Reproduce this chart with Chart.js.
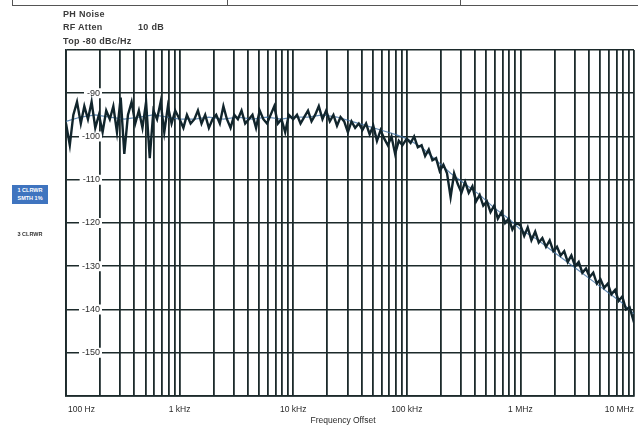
<!DOCTYPE html>
<html>
<head>
<meta charset="utf-8">
<script src="https://cdn.jsdelivr.net/npm/chart.js@4.4.0/dist/chart.umd.min.js"></script>
<style>
html,body{margin:0;padding:0;background:#fff;width:638px;height:428px;overflow:hidden;font-family:"Liberation Sans",Arial,sans-serif;}
#wrap{position:absolute;left:0;top:0;width:638px;height:428px;}
#c{position:absolute;left:0;top:0;}
.hdr{position:absolute;font-size:9px;font-weight:bold;color:#3c3c3c;white-space:nowrap;line-height:10px;letter-spacing:0.3px;}
#tbl{position:absolute;left:12px;top:-12px;width:640px;height:17px;border:1px solid #555;border-top:none;}
.div{position:absolute;top:-12px;width:1px;height:18px;background:#555;}
#tr1{position:absolute;left:12px;top:185px;width:36px;height:19px;background:#3f74bf;color:#fff;font-size:5.5px;font-weight:bold;line-height:8px;text-align:center;padding-top:1px;box-sizing:border-box;}
#tr3{position:absolute;left:12px;top:230px;width:36px;color:#333;font-size:5.5px;font-weight:bold;line-height:8px;text-align:center;}
</style>
</head>
<body>
<div id="wrap">
  <canvas id="c" width="638" height="428"></canvas>
  <div id="tbl"></div>
  <div class="div" style="left:227px"></div>
  <div class="div" style="left:460px"></div>
  <div class="hdr" style="left:63px;top:9px">PH Noise</div>
  <div class="hdr" style="left:63px;top:22px">RF Atten</div>
  <div class="hdr" style="left:138px;top:22px">10 dB</div>
  <div class="hdr" style="left:63px;top:36px">Top -80 dBc/Hz</div>
  <div id="tr1">1 CLRWR<br>SMTH 1%</div>
  <div id="tr3">3 CLRWR</div>
</div>
<script>
// ---- Data ----
const freqHz = [
  100,108,116,125,135,145,156,168,181,195,210,226,243,261,281,303,326,351,378,407,438,471,507,546,588,633,681,733,789,850,915,
  1000,1080,1160,1250,1350,1450,1560,1680,1810,1950,2100,2260,2430,2610,2810,3030,3260,3510,3780,4070,4380,4710,5070,5460,5880,6330,6810,7330,7890,8500,9150,
  10000,10800,11600,12500,13500,14500,15600,16800,18100,19500,21000,22600,24300,26100,28100,30300,32600,35100,37800,40700,43800,47100,50700,54600,58800,63300,68100,73300,78900,85000,91500,
  100000,108000,116000,125000,135000,145000,156000,168000,181000,195000,210000,226000,243000,261000,281000,303000,326000,351000,378000,407000,438000,471000,507000,546000,588000,633000,681000,733000,789000,850000,915000,
  1000000,1080000,1160000,1250000,1350000,1450000,1560000,1680000,1810000,1950000,2100000,2260000,2430000,2610000,2810000,3030000,3260000,3510000,3780000,4070000,4380000,4710000,5070000,5460000,5880000,6330000,6810000,7330000,7890000,8500000,9150000,
  10000000
];
const noiseDbc = [
  -97,-102,-95,-92,-97,-93,-96,-92,-98,-95,-99,-94,-96,-93,-99,-91,-104,-95,-92,-97,-94,-98,-92,-105,-94,-96,-92,-99,-93,-97,-94,
  -96,-98,-95,-97,-96,-94,-97,-95,-98,-96,-95,-97,-93,-96,-98,-95,-96,-94,-97,-96,-95,-98,-94,-96,-97,-95,-93,-97,-96,-99,-95,
  -96,-95,-97,-95.5,-94,-96.5,-95,-93,-96,-94,-96.5,-95,-97.5,-95.5,-96.5,-99,-96.5,-98,-97,-98.5,-97,-99.5,-97.5,-101,-98.5,-100.5,-102,-100,-104,-101,-102,
  -100.5,-101.5,-100,-102.5,-102,-104.5,-103,-105.5,-105,-108,-106.5,-108.5,-114,-108.5,-111,-113,-110.5,-113,-111.5,-115,-113.5,-116,-115,-117.5,-116,-119,-117.5,-120,-119,-121.5,-120,
  -120.5,-123,-121,-124,-122,-124.5,-123.5,-125.5,-124,-126.5,-125.5,-127.5,-126.5,-129,-127.5,-130,-129,-131.5,-130.5,-132.5,-131.5,-134,-133,-135,-134,-136.5,-135.5,-138,-137,-140,-139.5,
  -143
];
const smoothFreqHz = [
  100,135,181,243,326,438,588,789,
  1000,1350,1810,2430,3260,4380,5880,7890,
  10000,13500,18100,24300,32600,43800,58800,78900,
  100000,135000,181000,243000,326000,438000,588000,789000,
  1000000,1350000,1810000,2430000,3260000,4380000,5880000,7890000,
  10000000
];
const smoothDbc = [
  -96.5,-95.5,-95,-95.5,-96,-95.5,-95,-95.5,
  -96,-96,-95.5,-96,-95.5,-96,-95.5,-96,
  -95.5,-95.5,-95,-95.5,-96.5,-97.5,-98.5,-99.5,
  -100.5,-102.5,-105.5,-108.5,-111,-113.5,-116.5,-119,
  -121.5,-123.5,-126,-128.5,-131,-133.5,-136,-138.5,
  -141
];
const xTickValues = [100, 1000, 10000, 100000, 1000000, 10000000];
const xTickLabels = ['100 Hz', '1 kHz', '10 kHz', '100 kHz', '1 MHz', '10 MHz'];
const yTickValues = [-90, -100, -110, -120, -130, -140, -150];
const yTickLabels = ['-90', '-100', '-110', '-120', '-130', '-140', '-150'];
const xTitle = 'Frequency Offset';

// gridline positions: 1..9 x each decade
const gridValues = [];
for (let d = 100; d < 1e7; d *= 10) { for (let m = 1; m <= 9; m++) gridValues.push(m * d); }
gridValues.push(1e7);

const LABEL_FONT = '8.5px "Liberation Sans", Arial, sans-serif';
const GRID = '#1c2a2b';

const yLabelPlugin = {
  id: 'yLabels',
  beforeDatasetsDraw(chart) {
    const { ctx, scales: { y } } = chart;
    ctx.save();
    ctx.font = '9px "Liberation Sans", Arial, sans-serif';
    ctx.textBaseline = 'middle';
    ctx.textAlign = 'right';
    yTickValues.forEach((v, i) => {
      const py = y.getPixelForValue(v);
      const w = ctx.measureText(yTickLabels[i]).width;
      ctx.fillStyle = '#fff';
      ctx.fillRect(100 - w - 3, py - 5, w + 5, 10);
      ctx.fillStyle = '#2e2e2e';
      ctx.fillText(yTickLabels[i], 100, py);
    });
    ctx.restore();
  }
};

const xLabelPlugin = {
  id: 'xLabels',
  afterDraw(chart) {
    const { ctx, chartArea, scales: { x } } = chart;
    ctx.save();
    ctx.font = LABEL_FONT;
    ctx.fillStyle = '#2a2a2a';
    ctx.textBaseline = 'middle';
    xTickValues.forEach((v, i) => {
      let px = x.getPixelForValue(v);
      let align = 'center';
      if (i === 0) { align = 'left'; px = chartArea.left + 2; }
      else if (i === xTickValues.length - 1) { align = 'right'; px = chartArea.right; }
      ctx.textAlign = align;
      ctx.fillText(xTickLabels[i], px, 410);
    });
    ctx.textAlign = 'center';
    ctx.fillText(xTitle, 343, 421);
    ctx.restore();
  }
};

const noisePts = freqHz.map((f, i) => ({ x: f, y: noiseDbc[i] }));
const smoothPts = smoothFreqHz.map((f, i) => ({ x: f, y: smoothDbc[i] }));

new Chart(document.getElementById('c'), {
  type: 'line',
  data: {
    datasets: [
      { data: smoothPts, order: 2, borderColor: 'rgba(60,110,160,0.8)', borderWidth: 1.2, pointRadius: 0, tension: 0, fill: false },
      { data: noisePts, order: 1, borderColor: '#11252c', borderWidth: 2.4, pointRadius: 0, tension: 0, fill: false, borderJoinStyle: 'miter' }
    ]
  },
  options: {
    responsive: false,
    animation: false,
    events: [],
    layout: { padding: { top: 50, right: 4, left: 0, bottom: 0 } },
    plugins: { legend: { display: false }, tooltip: { enabled: false } },
    scales: {
      x: {
        type: 'logarithmic',
        min: 100, max: 1e7,
        afterBuildTicks: (s) => { s.ticks = gridValues.map(v => ({ value: v })); },
        afterFit: (s) => { s.height = 32; },
        ticks: { display: false, autoSkip: false },
        grid: { color: GRID, lineWidth: 1.8, drawTicks: false },
        border: { color: GRID, width: 1.8 }
      },
      y: {
        type: 'linear',
        min: -160, max: -80,
        afterBuildTicks: (s) => { s.ticks = [-160,-150,-140,-130,-120,-110,-100,-90,-80].map(v => ({ value: v })); },
        afterFit: (s) => { s.width = 66; },
        ticks: { display: false },
        grid: { color: GRID, lineWidth: 1.6, drawTicks: false },
        border: { color: GRID, width: 1.8 }
      }
    }
  },
  plugins: [yLabelPlugin, xLabelPlugin]
});
</script>
</body>
</html>
